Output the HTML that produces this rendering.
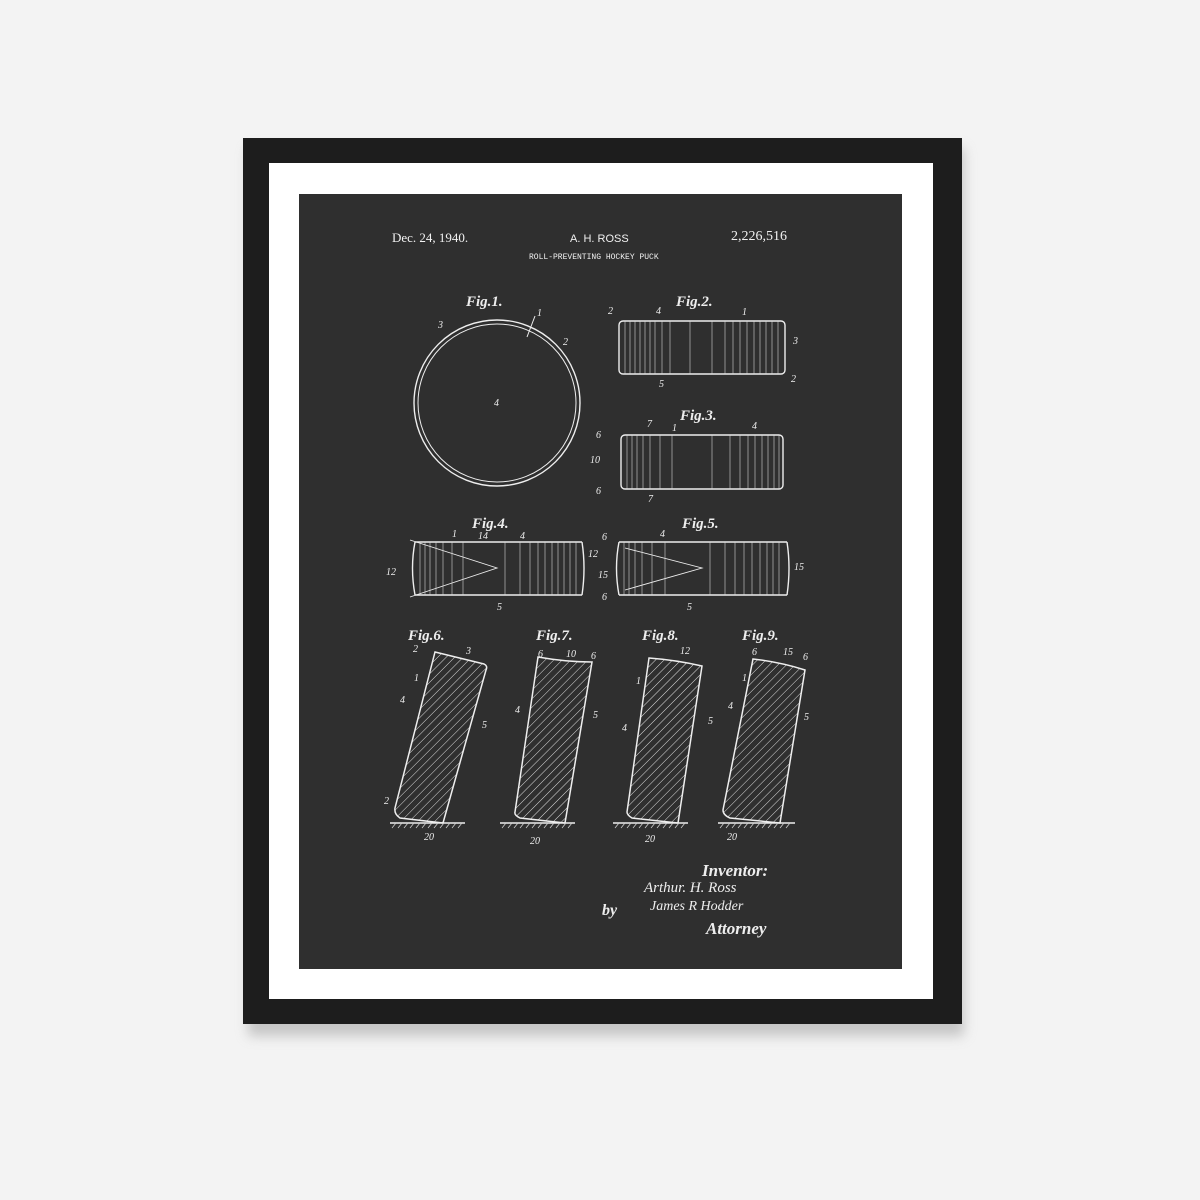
<!DOCTYPE html>
<html><head><meta charset="utf-8"><style>
html,body{margin:0;padding:0;background:#f3f3f3;}
svg{display:block}
</style></head><body>
<svg width="1200" height="1200" viewBox="0 0 1200 1200" xmlns="http://www.w3.org/2000/svg">
<defs>
<pattern id="h" width="6" height="6" patternUnits="userSpaceOnUse" patternTransform="rotate(45)">
<line x1="0" y1="0" x2="0" y2="6" stroke="#ddd" stroke-width="1"/>
</pattern>
<filter id="sh" x="-10%" y="-10%" width="120%" height="125%"><feGaussianBlur stdDeviation="6"/></filter>
</defs>
<rect width="1200" height="1200" fill="#f3f3f3"/>
<rect x="248" y="148" width="716" height="888" fill="#999" opacity="0.5" filter="url(#sh)"/>
<rect x="243" y="138" width="719" height="886" fill="#1d1d1d"/>
<rect x="269" y="163" width="664" height="836" fill="#fff"/>
<rect x="299" y="194" width="603" height="775" fill="#2f2f2f"/>
<g fill="#f2f2f2" font-family="Liberation Serif, serif">
<text x="392" y="242" font-size="13">Dec. 24, 1940.</text>
<text x="570" y="242" font-size="11" font-family="Liberation Sans, sans-serif">A. H. ROSS</text>
<text x="731" y="240" font-size="14">2,226,516</text>
<text x="529" y="259" font-size="8" font-family="Liberation Mono, monospace">ROLL-PREVENTING HOCKEY PUCK</text>
</g>
<g fill="#eee" font-family="Liberation Serif, serif" font-style="italic" font-weight="bold" font-size="15">
<text x="466" y="306">Fig.1.</text>
<text x="676" y="306">Fig.2.</text>
<text x="680" y="420">Fig.3.</text>
<text x="472" y="528">Fig.4.</text>
<text x="682" y="528">Fig.5.</text>
<text x="408" y="640">Fig.6.</text>
<text x="536" y="640">Fig.7.</text>
<text x="642" y="640">Fig.8.</text>
<text x="742" y="640">Fig.9.</text>
</g>
<g stroke="#eee" fill="none" stroke-width="1.4">
<circle cx="497" cy="403" r="83"/>
<circle cx="497" cy="403" r="79" stroke-width="1"/>
<path d="M527 337 L535 316" stroke-width="1"/>
<rect x="619" y="321" width="166" height="53" rx="4"/>
<rect x="621" y="435" width="162" height="54" rx="4"/>
<path d="M415 542 H582 M415 595 H582 M415 542 Q410 568 415 595 M582 542 Q586 568 582 595"/>
<path d="M619 542 H787 M619 595 H787 M619 542 Q614 568 619 595 M787 542 Q791 568 787 595"/>
<path d="M410 540 L497 568 L410 597" stroke-width="0.9"/>
<path d="M625 548 L702 568 L625 590" stroke-width="0.9"/>
</g>
<g stroke="#ddd" stroke-width="0.7" opacity="0.8">
<path d="M625 321v53M630 321v53M635 321v53M640 321v53M645 321v53M650 321v53M655 321v53M662 321v53M670 321v53M690 321v53M712 321v53M725 321v53M733 321v53M740 321v53M747 321v53M754 321v53M760 321v53M766 321v53M772 321v53M778 321v53"/>
<path d="M627 435v54M632 435v54M637 435v54M643 435v54M650 435v54M660 435v54M672 435v54M712 435v54M730 435v54M740 435v54M748 435v54M755 435v54M762 435v54M768 435v54M774 435v54M779 435v54"/>
<path d="M420 542v53M425 542v53M430 542v53M436 542v53M443 542v53M452 542v53M463 542v53M505 542v53M520 542v53M530 542v53M538 542v53M545 542v53M552 542v53M558 542v53M564 542v53M570 542v53M576 542v53"/>
<path d="M624 542v53M629 542v53M635 542v53M642 542v53M652 542v53M665 542v53M710 542v53M725 542v53M735 542v53M744 542v53M752 542v53M760 542v53M767 542v53M773 542v53M779 542v53"/>
</g>
<g stroke="#eee" stroke-width="1.5">
<path d="M435 652 L484 664 Q488 666 486 670 L443 823 L400 818 Q394 814 395 808 Z" fill="url(#h)"/>
<path d="M538 657 Q566 662 592 662 L565 823 L520 818 Q514 815 515 812 Z" fill="url(#h)"/>
<path d="M649 658 Q676 660 702 666 L678 823 L632 818 Q627 815 627 812 Z" fill="url(#h)"/>
<path d="M753 659 Q780 662 805 670 L780 823 L730 818 Q723 815 723 810 Z" fill="url(#h)"/>
<path d="M390 823H465M500 823H575M613 823H688M718 823H795" fill="none"/>
</g>
<g stroke="#ccc" stroke-width="0.8">
<path d="M392 828l4-5M398 828l4-5M404 828l4-5M410 828l4-5M416 828l4-5M422 828l4-5M428 828l4-5M434 828l4-5M440 828l4-5M446 828l4-5M452 828l4-5M458 828l4-5"/>
<path d="M502 828l4-5M508 828l4-5M514 828l4-5M520 828l4-5M526 828l4-5M532 828l4-5M538 828l4-5M544 828l4-5M550 828l4-5M556 828l4-5M562 828l4-5M568 828l4-5"/>
<path d="M615 828l4-5M621 828l4-5M627 828l4-5M633 828l4-5M639 828l4-5M645 828l4-5M651 828l4-5M657 828l4-5M663 828l4-5M669 828l4-5M675 828l4-5M681 828l4-5"/>
<path d="M720 828l4-5M726 828l4-5M732 828l4-5M738 828l4-5M744 828l4-5M750 828l4-5M756 828l4-5M762 828l4-5M768 828l4-5M774 828l4-5M780 828l4-5M786 828l4-5"/>
</g>
<g fill="#eee" font-family="Liberation Serif, serif" font-style="italic" font-size="10">
<text x="438" y="328">3</text><text x="537" y="316">1</text><text x="563" y="345">2</text><text x="494" y="406">4</text>
<text x="608" y="314">2</text><text x="656" y="314">4</text><text x="742" y="315">1</text><text x="793" y="344">3</text><text x="791" y="382">2</text><text x="659" y="387">5</text>
<text x="596" y="438">6</text><text x="590" y="463">10</text><text x="596" y="494">6</text><text x="647" y="427">7</text><text x="648" y="502">7</text><text x="672" y="431">1</text><text x="752" y="429">4</text>
<text x="386" y="575">12</text><text x="452" y="537">1</text><text x="478" y="539">14</text><text x="520" y="539">4</text><text x="588" y="557">12</text><text x="497" y="610">5</text>
<text x="602" y="540">6</text><text x="598" y="578">15</text><text x="602" y="600">6</text><text x="660" y="537">4</text><text x="794" y="570">15</text><text x="687" y="610">5</text>
<text x="413" y="652">2</text><text x="466" y="654">3</text><text x="414" y="681">1</text><text x="400" y="703">4</text><text x="482" y="728">5</text><text x="384" y="804">2</text><text x="424" y="840">20</text>
<text x="538" y="657">6</text><text x="566" y="657">10</text><text x="591" y="659">6</text><text x="515" y="713">4</text><text x="593" y="718">5</text><text x="530" y="844">20</text>
<text x="680" y="654">12</text><text x="636" y="684">1</text><text x="622" y="731">4</text><text x="708" y="724">5</text><text x="645" y="842">20</text>
<text x="752" y="655">6</text><text x="783" y="655">15</text><text x="803" y="660">6</text><text x="742" y="681">1</text><text x="728" y="709">4</text><text x="804" y="720">5</text><text x="727" y="840">20</text>
</g>
<g fill="#eee" font-family="Liberation Serif, serif" font-style="italic">
<text x="702" y="876" font-size="17" font-weight="bold">Inventor:</text>
<text x="644" y="892" font-size="15">Arthur. H. Ross</text>
<text x="602" y="915" font-size="16" font-weight="bold">by</text>
<text x="650" y="910" font-size="14">James R Hodder</text>
<text x="706" y="934" font-size="17" font-weight="bold">Attorney</text>
</g>
</svg>
</body></html>
